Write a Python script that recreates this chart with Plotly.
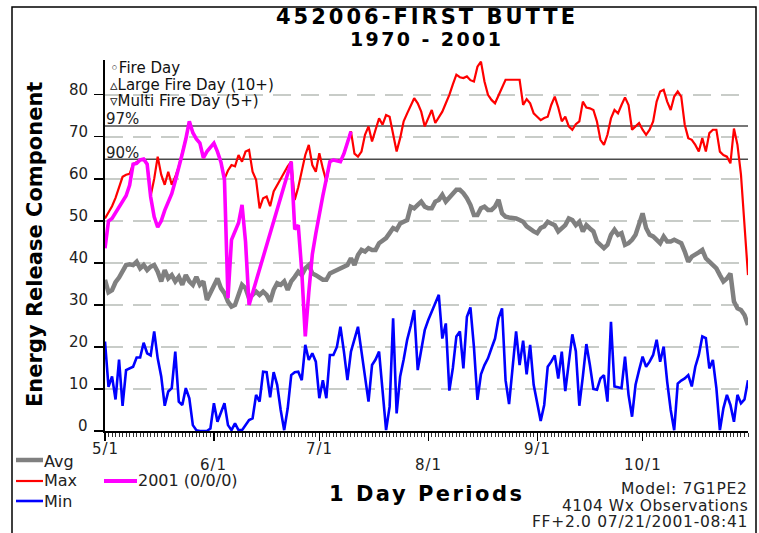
import plotly.graph_objects as go

# ---------------- data ----------------
days = list(range(184))                      # day index from 5/1 to 10/31
month_start_days = [0, 31, 61, 92, 123, 153]
month_labels = ["5/1", "6/1", "7/1", "8/1", "9/1", "10/1"]
y_ticks = [0, 10, 20, 30, 40, 50, 60, 70, 80]

avg = [
    36, 33, 33.5, 35.4, 36.5, 38, 39.5, 39.7, 39.5, 40.3,
    38.7, 39.5, 38.3, 39.1, 39.5, 37.9, 35.6, 38.3, 36.3, 37.1,
    35.6, 36.7, 34.8, 37.1, 35.6, 34.8, 36.7, 34.8, 35.6, 31.2,
    33, 34.4, 36.3, 34, 32.8, 30.8, 29.6, 30, 32.8, 34.8,
    34, 31.6, 32.4, 33.2, 32.4, 33.2, 32.4, 30.8, 33.6, 35.2,
    34.8, 35.6, 33.6, 35.6, 36.7, 37.9, 37.1, 38.7, 39.5, 37.5,
    37.1, 36.5, 36, 36, 37.5, 37.9, 38.3, 38.7, 39.1, 39.5,
    41.1, 39.5, 41.9, 43.1, 42.7, 43.5, 43.1, 43.1, 44.7, 45.3,
    45.9, 47.1, 48.3, 47.9, 49.4, 49.8, 50.2, 53.4, 53, 53.8,
    54.6, 53.4, 53, 53, 54.6, 55, 56.2, 54.6, 55.5, 56.2,
    57.4, 57.4, 56.6, 55.4, 53.8, 51.4, 51.4, 53, 53.4, 52.6,
    52.6, 53.4, 55, 51.8, 51, 50.8, 50.7, 50.6, 50.2, 49.8,
    48.7, 48, 47.5, 47.1, 48.3, 48.7, 49.8, 49.4, 49, 47.5,
    48.3, 49, 50.6, 50.2, 49, 49.8, 47.5, 49, 48.2, 47.5,
    45.1, 44.3, 43.5, 44.3, 46.7, 47.9, 46.7, 47.1, 44.3, 44.7,
    45.5, 46.7, 49, 51.8, 48.3, 46.7, 46.3, 45.5, 44.7, 46.3,
    45.1, 45.1, 45.5, 45.1, 44.7, 42.7, 40.3, 41.5, 41.9, 42.5,
    43.1, 41.1, 40.3, 39.5, 38.7, 37.1, 35.6, 36.3, 37.5, 30.8,
    29.2, 28.8, 27.6, 25.2,
]

mx = [
    50.6, 52, 53.5, 55.5, 58, 60.5, 61, 61.2, 63.5, 64,
    64.5, 64.7, 63.5, 56, 60, 65.3, 61, 58.6, 61.7, 58.6,
    60.5, 63, 66, 69.5, 73.7, 71, 69.5, 68.5, 65, 66.5,
    67.5, 68.5, 66.5, 64, 60, 62, 63.3, 63, 65.7, 64.1,
    66.5, 66.9, 61.7, 59.8, 53, 55.4, 55.8, 53.5, 57, 58.5,
    60, 61.5, 63, 64.1, 55, 58, 62, 65.7, 68.1, 63.3,
    61.7, 66.1, 62.5, 59.4, 64.1, 64.5, 64.5, 64.1, 66, 68.5,
    71.3, 66, 65.3, 66.5, 70.5, 72.5, 68.9, 71.7, 74.4, 72.9,
    75.2, 74.8, 70.5, 66.5, 69.7, 73.7, 75.6, 77.5, 79.2, 78,
    76, 72.5, 74.5, 76.4, 73.3, 74.5, 76, 78, 80, 82.5,
    84.8, 84.2, 84, 84.4, 83.5, 83.2, 86.7, 87.9, 83.2, 80,
    78.8, 78, 80, 82, 83.6, 83.6, 83.6, 83.6, 83.6, 77.6,
    79, 78, 75.6, 74.8, 74, 74.5, 74.8, 77.6, 79.6, 77,
    73.7, 74.8, 72.5, 71.7, 73, 73.7, 78.4, 77, 76.8, 76.4,
    73.7, 69.3, 68.1, 70.5, 74.4, 76.4, 75.6, 77.6, 79.4, 77.6,
    71.7, 72.5, 73.3, 71.7, 70.5, 71.7, 73.7, 78.4, 80.8, 81.2,
    78.4, 76.4, 79.6, 80.8, 79.6, 72.9, 69.7, 69.3, 68.1, 66.5,
    69.7, 66.5, 70.9, 71.7, 71.7, 66.5, 65.7, 65.3, 63.7, 72,
    68.1, 61, 48.3, 37.1,
]

mn = [
    21.3, 10.5, 13, 7.5, 17, 6, 14.5, 15, 15.3, 17.5,
    17.5, 21, 18.5, 18, 23.7, 17.3, 13, 6, 9.4, 10.2,
    18.9, 7, 6.2, 10.2, 7.8, 1.4, 0.2, 0, 0, 0,
    0.6, 6.6, 2.2, 4.2, 6.6, 1.4, 0.2, 1.8, 0.2, 0.2,
    1.4, 2.6, 3, 8.6, 7, 14.1, 14, 8, 14, 11,
    5, 0.2, 5.4, 13.3, 14, 14.1, 12.1, 20.5, 16.9, 18.5,
    16.5, 7.8, 12.1, 7.8, 18.1, 18.1, 20, 24.8, 18.9, 12.1,
    18.9, 22, 24.8, 18.9, 13.3, 7, 15.7, 17, 18.9, 10,
    0.2, 5.8, 26.8, 4.2, 13, 17, 21.7, 25, 28.8, 14.5,
    19.7, 24, 26.4, 28.4, 30, 32.4, 22, 25.6, 9.6, 15,
    22.5, 23.7, 14.9, 27.2, 29.4, 20, 7.4, 13.5, 15.7, 17.3,
    19.7, 22, 26.8, 29.2, 12.1, 6.4, 15, 23.7, 15.7, 21.5,
    13.5, 20.5, 11, 7, 2.4, 6.2, 15.3, 16.5, 18, 12.5,
    18.9, 9.5, 17, 23, 19, 6, 13, 20.7, 15.7, 10,
    9.8, 12.5, 13.3, 7, 26, 10.6, 10.4, 10.2, 17.7, 8.6,
    3.4, 11, 14.5, 17.7, 15.3, 16.5, 18.1, 21.7, 16.5, 20.1,
    11.7, 5, 0.2, 11.3, 12, 12.5, 13.3, 10.6, 15.3, 18.1,
    22.5, 22.1, 14.9, 16.9, 10.2, 0.2, 5.4, 8.6, 6.2, 2.2,
    8.6, 6.6, 7.5, 12.1,
]

y2001 = [
    43.5, 50, 50.6, 52, 53.5, 55, 56, 58.5, 63.5, 63.7,
    64.5, 64.7, 63.5, 55.7, 51, 48.5, 50, 52.5, 54.5, 56.5,
    59.5, 62.5, 66, 69.5, 73.7, 71, 69.5, 68.5, 65, 66.5,
    67.5, 68.5, 66.5, 64, 59.8, 31.6, 45.5, 47.5, 49.5, 53.8,
    45, 30, None, None, None, None, None, None, None, None,
    None, None, None, 64.1, 48, 49, 38, 22.5, 33, 42,
    47, 52, 56, 60, 64.1, 64.5, 64.3, 64.1, 66, 68.5,
    71.3,
]

pct97 = 72.6
pct90 = 64.7

# ---------------- layout helpers ----------------
W, H = 759, 533
L, R, T, B = 105, 748, 60, 431       # plot box in pixels
FONT = "DejaVu Sans"


def px(xp):
    return (xp - L) / (R - L)


def py(yp):
    return (B - yp) / (B - T)


fig = go.Figure()
fig.add_trace(go.Scatter(x=days, y=avg, mode="lines", name="Avg",
                         line=dict(color="#808080", width=4.5)))
fig.add_trace(go.Scatter(x=days, y=mx, mode="lines", name="Max",
                         line=dict(color="#FF0000", width=2.2)))
fig.add_trace(go.Scatter(x=days, y=mn, mode="lines", name="Min",
                         line=dict(color="#0000FF", width=2.6)))
fig.add_trace(go.Scatter(x=days[:len(y2001)], y=y2001, mode="lines", name="2001 (0/0/0)",
                         connectgaps=True, line=dict(color="#FF00FF", width=3.6)))

shapes = []
# percentile reference lines
for v in (pct97, pct90):
    shapes.append(dict(type="line", xref="x", yref="y", x0=0, x1=183, y0=v, y1=v,
                       line=dict(color="#4a4a4a", width=1.5), layer="between"))
# outer border (bottom edge lies below the visible page)
shapes.append(dict(type="rect", xref="paper", yref="paper",
                   x0=px(12), x1=px(756), y0=py(545), y1=py(7),
                   line=dict(color="black", width=1.5), fillcolor="rgba(0,0,0,0)", layer="above"))
# legend swatches
leg = [("#808080", 4.5, 16, 43, 460), ("#FF0000", 2.2, 16, 43, 481),
       ("#0000FF", 2.6, 16, 43, 501), ("#FF00FF", 4, 104, 137, 481)]
for c, w, xa, xb, yy in leg:
    shapes.append(dict(type="line", xref="paper", yref="paper", x0=px(xa), x1=px(xb),
                       y0=py(yy), y1=py(yy), line=dict(color=c, width=w)))

ann = []


def text(t, xp, yp, size=15, anchor="left", bold=False, color="#111111", spacing=None):
    if spacing:
        t = f'<span style="letter-spacing:{spacing}px">{t}</span>'
    if bold:
        t = f"<b>{t}</b>"
    ann.append(dict(text=t, x=px(xp), y=py(yp), xref="paper", yref="paper",
                    xanchor=anchor, yanchor="middle", showarrow=False, borderpad=0,
                    font=dict(family=FONT, size=size, color=color)))


# titles
text("452006-FIRST BUTTE", 426.5, 17, size=21, anchor="center", bold=True, color="black", spacing=3)
text("1970 - 2001", 426.5, 39, size=19, anchor="center", bold=True, color="black", spacing=2.4)
# y-axis title
ann.append(dict(text="<b>Energy Release Component</b>", x=px(35), y=py(245), xref="paper", yref="paper",
                xanchor="center", yanchor="middle", textangle=-90, showarrow=False, borderpad=0,
                font=dict(family=FONT, size=21, color="black")))
# x-axis title
text("1 Day Periods", 426.5, 494, size=21, anchor="center", bold=True, color="black", spacing=2.5)

# fire-day key
text("◦Fire Day", 109, 68, size=15)
text("▵Large Fire Day (10+)", 109, 85, size=15)
text("▿Multi Fire Day (5+)", 109, 101, size=15)
text("97%", 105, 119, size=15, color="#222222")
text("90%", 105, 153, size=15, color="#222222")

# legend texts
text("Avg", 43, 461, size=16, color="#222222")
text("Max", 43, 481, size=16, color="#222222")
text("Min", 43, 501, size=16, color="#222222")
text("2001 (0/0/0)", 137, 481, size=16, color="#222222")

# footer
text("Model: 7G1PE2", 749, 489, size=15.5, anchor="right", color="#222222", spacing=0.7)
text("4104 Wx Observations", 749, 506, size=15.5, anchor="right", color="#222222", spacing=0.5)
text("FF+2.0 07/21/2001-08:41", 749, 522, size=15.5, anchor="right", color="#222222", spacing=0.7)

# staggered month labels
for i, (d, lab) in enumerate(zip(month_start_days, month_labels)):
    ann.append(dict(text=f'<span style="letter-spacing:1px">{lab}</span>', x=d,
                    y=py(449 if i % 2 == 0 else 465), xref="x", yref="paper",
                    xanchor="center", yanchor="middle", showarrow=False, borderpad=0,
                    font=dict(family=FONT, size=15, color="#222222")))
# y tick labels
for v in y_ticks:
    ann.append(dict(text=str(v), x=px(89), y=v, xref="paper", yref="y", yshift=5,
                    xanchor="right", yanchor="middle", showarrow=False, borderpad=0,
                    font=dict(family=FONT, size=15, color="#222222")))

fig.update_layout(
    width=W, height=H,
    margin=dict(l=L, r=W - R, t=T, b=H - B, pad=0),
    paper_bgcolor="white", plot_bgcolor="white",
    showlegend=False, hovermode=False,
    shapes=shapes, annotations=ann,
    xaxis=dict(range=[0, 183], showgrid=False, zeroline=False,
               showline=True, linecolor="black", linewidth=2,
               tickmode="array", tickvals=month_start_days, showticklabels=False,
               ticks="outside", ticklen=8, tickwidth=1.2, tickcolor="black",
               minor=dict(tick0=0, dtick=1, ticks="outside", ticklen=4,
                          tickwidth=1, tickcolor="#333333", showgrid=False)),
    yaxis=dict(range=[0, 88.3], tickmode="array", tickvals=y_ticks, showticklabels=False,
               ticks="outside", ticklen=9, tickwidth=1.2, tickcolor="black",
               showgrid=True, gridcolor="#C8CCC8", gridwidth=1.5, griddash="18px,10px",
               zeroline=False, showline=True, linecolor="black", linewidth=2),
)

fig.write_html("out.html", config={"displayModeBar": False, "staticPlot": True},
               post_script="document.body.style.margin='0px';document.body.style.overflow='hidden';")
